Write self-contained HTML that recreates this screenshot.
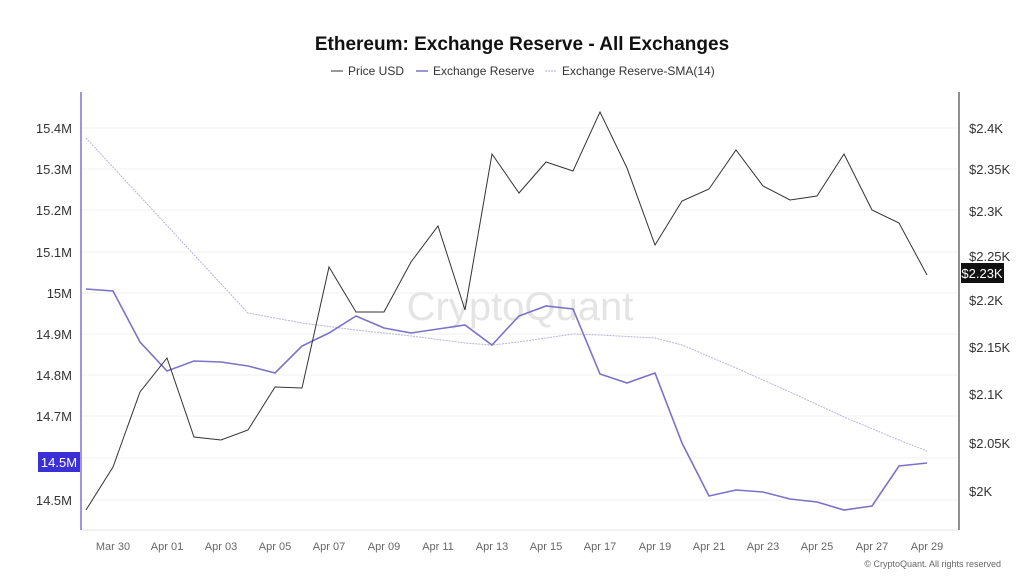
<!DOCTYPE html>
<html><head><meta charset="utf-8"><style>
html,body{margin:0;padding:0;background:#fff;width:1024px;height:582px;overflow:hidden}
svg{display:block;font-family:"Liberation Sans",sans-serif}
</style></head><body>
<svg width="1024" height="582" viewBox="0 0 1024 582">
<text x="522" y="50" text-anchor="middle" font-size="19" font-weight="bold" fill="#111">Ethereum: Exchange Reserve - All Exchanges</text>
<g font-size="12" fill="#333">
<line x1="331" y1="71" x2="343" y2="71" stroke="#333"/><text x="348" y="75">Price USD</text>
<line x1="416" y1="71" x2="428" y2="71" stroke="#7b72c8" stroke-width="1.5"/><text x="433" y="75">Exchange Reserve</text>
<line x1="545" y1="71" x2="557" y2="71" stroke="#aaa6d8" stroke-dasharray="2,1"/><text x="562" y="75">Exchange Reserve-SMA(14)</text>
</g>
<g stroke="#f2f2f2" stroke-width="1">
<line x1="82" y1="128" x2="958" y2="128"/><line x1="82" y1="169" x2="958" y2="169"/><line x1="82" y1="210" x2="958" y2="210"/><line x1="82" y1="252" x2="958" y2="252"/><line x1="82" y1="293" x2="958" y2="293"/><line x1="82" y1="334" x2="958" y2="334"/><line x1="82" y1="375" x2="958" y2="375"/><line x1="82" y1="416" x2="958" y2="416"/><line x1="82" y1="458" x2="958" y2="458"/><line x1="82" y1="500" x2="958" y2="500"/>
</g>
<line x1="81" y1="92" x2="81" y2="530" stroke="#9d97d6" stroke-width="2"/>
<line x1="959" y1="92" x2="959" y2="530" stroke="#222" stroke-width="1"/>
<line x1="82" y1="530" x2="958" y2="530" stroke="#e6e6e6"/>
<g font-size="13" fill="#333" text-anchor="end">
<text x="72" y="133">15.4M</text><text x="72" y="174">15.3M</text><text x="72" y="215">15.2M</text><text x="72" y="257">15.1M</text><text x="72" y="298">15M</text><text x="72" y="339">14.9M</text><text x="72" y="380">14.8M</text><text x="72" y="421">14.7M</text><text x="72" y="505">14.5M</text>
</g>
<rect x="38" y="452" width="42" height="20" fill="#3b2fd6"/>
<text x="59" y="467" text-anchor="middle" font-size="13" fill="#fff">14.5M</text>
<g font-size="13" fill="#333">
<text x="969" y="133">$2.4K</text><text x="969" y="174">$2.35K</text><text x="969" y="216">$2.3K</text><text x="969" y="261">$2.25K</text><text x="969" y="305">$2.2K</text><text x="969" y="352">$2.15K</text><text x="969" y="399">$2.1K</text><text x="969" y="448">$2.05K</text><text x="969" y="496">$2K</text>
</g>
<rect x="961" y="263" width="43" height="20" fill="#111"/>
<text x="982" y="278" text-anchor="middle" font-size="13" fill="#fff">$2.23K</text>
<g font-size="11" fill="#666" text-anchor="middle">
<text x="113" y="550">Mar 30</text><text x="167" y="550">Apr 01</text><text x="221" y="550">Apr 03</text><text x="275" y="550">Apr 05</text><text x="329" y="550">Apr 07</text><text x="384" y="550">Apr 09</text><text x="438" y="550">Apr 11</text><text x="492" y="550">Apr 13</text><text x="546" y="550">Apr 15</text><text x="600" y="550">Apr 17</text><text x="655" y="550">Apr 19</text><text x="709" y="550">Apr 21</text><text x="763" y="550">Apr 23</text><text x="817" y="550">Apr 25</text><text x="872" y="550">Apr 27</text><text x="927" y="550">Apr 29</text>
</g>
<text x="1001" y="567" text-anchor="end" font-size="9" fill="#666">© CryptoQuant. All rights reserved</text>
<text x="520" y="320" text-anchor="middle" font-size="40" fill="#e4e4e4">CryptoQuant</text>
<polyline fill="none" stroke="#b8b4dc" stroke-width="1" stroke-dasharray="2,1" points="86,138 248,313 302,323 356,330 411,336 465,343 492,345 519,342 573,334 600,335 655,338 682,345 736,368 790,392 844,417 899,440 927,451"/>
<polyline fill="none" stroke="#7b72c8" stroke-width="1.6" points="86,289 113,291 140,342 167,371 194,361 221,362 248,366 275,373 302,346 329,333 356,316 384,328 411,333 438,329 465,325 492,345 519,316 546,306 573,309 600,374 627,383 655,373 682,443 709,496 736,490 763,492 790,499 817,502 844,510 872,506 899,466 927,463"/>
<polyline fill="none" stroke="#333" stroke-width="1" points="86,510 113,467 140,392 167,358 194,437 221,440 248,430 275,387 302,388 329,267 356,312 384,312 411,262 438,226 465,310 492,154 519,193 546,162 573,171 600,112 627,168 655,245 682,201 709,189 736,150 763,186 790,200 817,196 844,154 872,210 899,223 927,275"/>
</svg>
</body></html>
